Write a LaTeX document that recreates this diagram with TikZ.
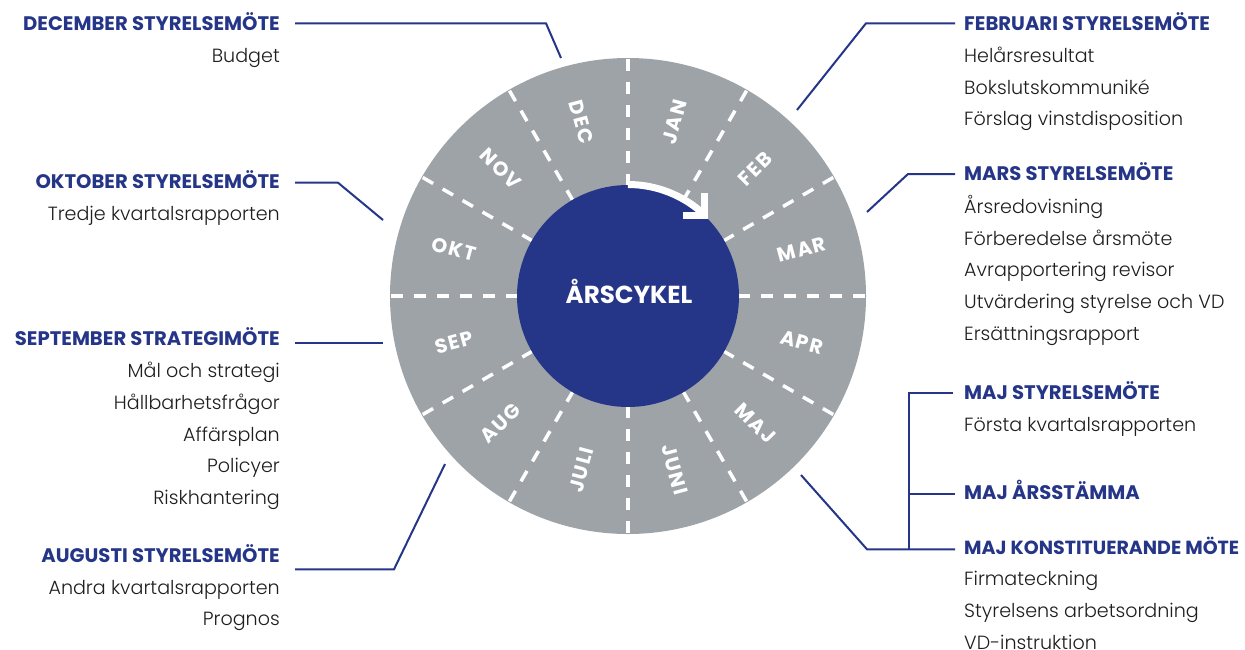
\documentclass[tikz,border=0pt]{standalone}
\usepackage{fontspec}
\setmainfont{Poppins}
\newfontfamily\lightf{Poppins Light}
\newfontfamily\monthf[LetterSpace=8]{Poppins Bold}
\usetikzlibrary{calc}
\definecolor{navy}{RGB}{37,53,135}
\definecolor{wheel}{RGB}{158,163,168}
\definecolor{bodytxt}{RGB}{30,30,30}
\begin{document}
\begin{tikzpicture}[x=1pt,y=1pt,
  head/.style={font=\bfseries\fontsize{19.6}{19.6}\selectfont, text=navy, inner sep=0pt},
  item/.style={font=\lightf\fontsize{19.1}{19.1}\selectfont, text=bodytxt, inner sep=0pt},
  month/.style={font=\monthf\fontsize{20}{20}\selectfont, text=white, inner sep=0pt},
  conn/.style={draw=navy, line width=2pt},
  dashline/.style={draw=white, line width=3.5pt, dash pattern=on 12pt off 11pt},
  arrowline/.style={draw=white, line width=7pt}]
\useasboundingbox (0,0) rectangle (1245,-649);
\coordinate (C) at (628,-296);
% wheel
\fill[wheel] (C) circle[radius=238];
\foreach \a in {0,30,...,330}{
  \draw[dashline] ($(C)+(\a:237)$) -- ($(C)+(\a:111)$);
}
\node[circle, fill=navy, minimum size=222pt, inner sep=0pt] (hub) at (C) {};
\node[font=\bfseries\fontsize{24.6}{24.6}\selectfont, text=white, inner sep=0pt, anchor=base] (title) at (629,-303.3) {ÅRSCYKEL};
% arrow
\coordinate (arcstart) at ($(C)+(90:111.5)$);
\coordinate (tipcorner) at (704.3,-215);
\coordinate (tiph) at (682.7,-215);
\coordinate (tipv) at (704.3,-192.7);
\draw[arrowline] (arcstart) arc[start angle=90, end angle=47, radius=111.5];
\draw[arrowline, miter limit=10] (tiph) -- (tipcorner) -- (tipv);
% months
\foreach \m/\a/\r in {JAN/75/75, FEB/45/45, MAR/15/15, APR/-15/-15, MAJ/-45/-45, JUNI/-75/-75,
                      JULI/-105/75, AUG/-135/45, SEP/-165/15, OKT/165/-15, NOV/135/-45, DEC/105/-75}{
  \node[month, rotate=\r] (m\m) at ($(C)+(\a:180)$) {\m};
}
% left column
\node[head, anchor=base east] (hdec) at (280,-30.7) {DECEMBER STYRELSEMÖTE};
\node[item, anchor=base east] (idec1) at (280,-62.7) {Budget};
\node[head, anchor=base east] (hokt) at (280,-188.3) {OKTOBER STYRELSEMÖTE};
\node[item, anchor=base east] (iokt1) at (280,-220) {Tredje kvartalsrapporten};
\node[head, anchor=base east] (hsep) at (280,-345.7) {SEPTEMBER STRATEGIMÖTE};
\node[item, anchor=base east] (isep1) at (280,-377.7) {Mål och strategi};
\node[item, anchor=base east] (isep2) at (280,-409.4) {Hållbarhetsfrågor};
\node[item, anchor=base east] (isep3) at (280,-441.1) {Affärsplan};
\node[item, anchor=base east] (isep4) at (280,-472.8) {Policyer};
\node[item, anchor=base east] (isep5) at (280,-504.5) {Riskhantering};
\node[head, anchor=base east] (haug) at (280,-562.3) {AUGUSTI STYRELSEMÖTE};
\node[item, anchor=base east] (iaug1) at (280,-594) {Andra kvartalsrapporten};
\node[item, anchor=base east] (iaug2) at (280,-625.7) {Prognos};
% right column
\node[head, anchor=base west] (hfeb) at (964,-30) {FEBRUARI STYRELSEMÖTE};
\node[item, anchor=base west] (ifeb1) at (964,-62.3) {Helårsresultat};
\node[item, anchor=base west] (ifeb2) at (964,-94) {Bokslutskommuniké};
\node[item, anchor=base west] (ifeb3) at (964,-125.7) {Förslag vinstdisposition};
\node[head, anchor=base west] (hmar) at (964,-180.7) {MARS STYRELSEMÖTE};
\node[item, anchor=base west] (imar1) at (964,-213.3) {Årsredovisning};
\node[item, anchor=base west] (imar2) at (964,-245) {Förberedelse årsmöte};
\node[item, anchor=base west] (imar3) at (964,-276.7) {Avrapportering revisor};
\node[item, anchor=base west] (imar4) at (964,-308.4) {Utvärdering styrelse och VD};
\node[item, anchor=base west] (imar5) at (964,-340.1) {Ersättningsrapport};
\node[head, anchor=base west] (hmaj1) at (964,-399) {MAJ STYRELSEMÖTE};
\node[item, anchor=base west] (imaj1) at (964,-431.7) {Första kvartalsrapporten};
\node[head, anchor=base west] (hmaj2) at (964,-499) {MAJ ÅRSSTÄMMA};
\node[head, anchor=base west, font=\bfseries\fontsize{19}{19}\selectfont] (hmaj3) at (964,-554.3) {MAJ KONSTITUERANDE MÖTE};
\node[item, anchor=base west] (imaj2) at (964,-585.7) {Firmateckning};
\node[item, anchor=base west] (imaj3) at (964,-617.4) {Styrelsens arbetsordning};
\node[item, anchor=base west] (imaj4) at (964,-649.1) {VD-instruktion};
% connectors
\coordinate (cdecA) at (295,-23.3); \coordinate (cdecB) at (546,-23.3); \coordinate (cdecC) at (561,-58);
\draw[conn] (cdecA) -- (cdecB) -- (cdecC);
\coordinate (coktA) at (295,-182.7); \coordinate (coktB) at (338,-182.7); \coordinate (coktC) at (383,-220);
\draw[conn] (coktA) -- (coktB) -- (coktC);
\coordinate (csepA) at (295,-342.7); \coordinate (csepB) at (383,-342.7);
\draw[conn] (csepA) -- (csepB);
\coordinate (caugA) at (295,-569.3); \coordinate (caugB) at (394,-569.3); \coordinate (caugC) at (445,-464);
\draw[conn] (caugA) -- (caugB) -- (caugC);
\coordinate (cfebA) at (955,-23.3); \coordinate (cfebB) at (866,-23.3); \coordinate (cfebC) at (797,-110);
\draw[conn] (cfebA) -- (cfebB) -- (cfebC);
\coordinate (cmarA) at (955,-174); \coordinate (cmarB) at (908,-174); \coordinate (cmarC) at (867,-212);
\draw[conn] (cmarA) -- (cmarB) -- (cmarC);
\coordinate (cmajT) at (909,-393); \coordinate (cmajTe) at (953,-393);
\coordinate (cmajM) at (909,-494); \coordinate (cmajMe) at (955,-494);
\coordinate (cmajB) at (909,-549.3); \coordinate (cmajBe) at (955,-549.3);
\coordinate (cmajK) at (867,-549.3); \coordinate (cmajD) at (801,-475);
\draw[conn] (cmajTe) -- (cmajT) -- (cmajB);
\draw[conn] (cmajM) -- (cmajMe);
\draw[conn] (cmajD) -- (cmajK) -- (cmajBe);
\end{tikzpicture}
\end{document}
